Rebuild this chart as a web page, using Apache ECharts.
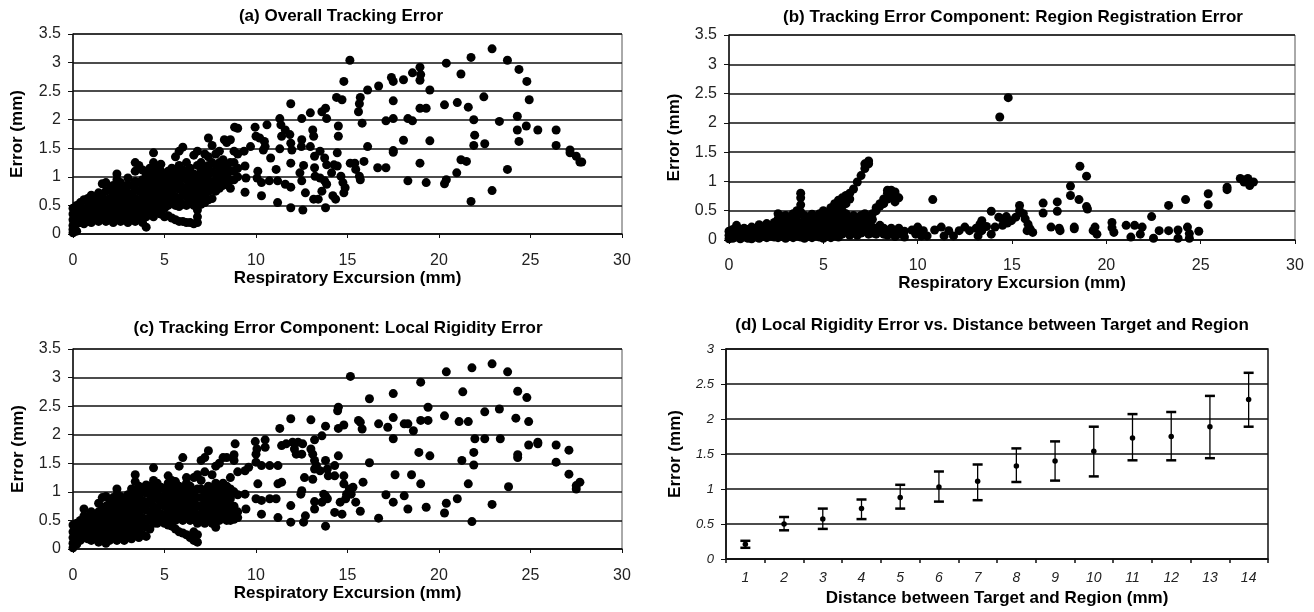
<!DOCTYPE html>
<html><head><meta charset="utf-8">
<script src="https://cdn.jsdelivr.net/npm/echarts@6/dist/echarts.min.js"></script>
<style>html,body{margin:0;padding:0;background:#fff}#c{width:1314px;height:612px}</style>
</head><body><div id="c"></div>
<script>
// ---------- Panel (a): Overall Tracking Error ----------
// dense region, columns: [x, [y values]]
const denseA = [
[0.0,[0.02,0.08,0.15,0.25,0.35,0.45]],[0.2,[0.05,0.18,0.3,0.42,0.5]],[0.4,[0.2,0.32,0.45,0.55]],
[0.6,[0.18,0.3,0.42,0.6]],[0.8,[0.22,0.35,0.48,0.62]],[1.0,[0.2,0.3,0.45,0.55,0.68]],
[1.2,[0.25,0.38,0.5,0.6]],[1.4,[0.22,0.35,0.48,0.62,0.72]],[1.6,[0.28,0.4,0.55,0.7,0.88]],
[1.8,[0.22,0.33,0.46,0.6,0.75,0.9]],[2.0,[0.25,0.38,0.5,0.62,0.78]],[2.2,[0.2,0.32,0.45,0.58,0.7,0.85]],
[2.4,[0.28,0.4,0.55,0.68,0.82,0.95,1.05]],[2.6,[0.22,0.35,0.48,0.6,0.75,0.9]],[2.8,[0.25,0.38,0.52,0.65,0.8]],
[3.0,[0.2,0.32,0.45,0.58,0.72,0.85,0.98]],[3.2,[0.25,0.4,0.55,0.7,0.85]],[3.4,[0.22,0.35,0.48,0.62,0.78,0.92,1.1,1.25]],
[3.6,[0.3,0.45,0.6,0.75,0.9,1.2]],[3.8,[0.2,0.35,0.5,0.65,0.8,0.95,1.12]],[4.0,[0.12,0.3,0.45,0.6,0.75,0.9,1.05]],
[4.2,[0.38,0.52,0.68,0.82,0.98,1.15]],[4.4,[0.3,0.45,0.6,0.75,0.9,1.05,1.25,1.42]],[4.6,[0.4,0.55,0.7,0.85,1.0,1.15]],
[4.8,[0.35,0.5,0.65,0.8,0.95,1.1,1.22]],[5.0,[0.3,0.45,0.6,0.75,0.9,1.05]],[5.2,[0.32,0.5,0.65,0.8,0.95,1.1]],
[5.4,[0.28,0.55,0.7,0.85,1.0,1.15]],[5.6,[0.25,0.5,0.65,0.8,0.95,1.1,1.35]],[5.8,[0.22,0.48,0.62,0.78,0.92,1.05,1.2,1.45]],
[6.0,[0.22,0.52,0.68,0.82,0.98,1.12,1.52]],[6.2,[0.2,0.5,0.65,0.8,0.95,1.1,1.25]],[6.4,[0.2,0.55,0.7,0.85,1.0,1.15]],
[6.6,[0.18,0.5,0.62,0.78,0.92,1.05,1.38]],[6.8,[0.2,0.3,0.42,0.55,0.7,0.85,1.0,1.2,1.45]],[7.0,[0.52,0.65,0.8,0.95,1.1,1.25]],
[7.2,[0.55,0.7,0.85,1.0,1.15,1.4]],[7.4,[0.6,0.75,0.9,1.05,1.2,1.35,1.68]],[7.6,[0.62,0.78,0.92,1.08,1.25,1.55]],
[7.8,[0.75,0.9,1.05,1.2,1.4]],[8.0,[0.8,0.95,1.1,1.25,1.45]],[8.2,[0.85,1.0,1.15,1.3]],
[8.4,[0.9,1.05,1.2,1.6]],[8.6,[0.8,0.95,1.1,1.25,1.65]],[8.8,[0.95,1.1,1.25,1.45]],[9.0,[1.0,1.15,1.4,1.85]]
];
const sparseA = [
[8.83,1.87],[8.27,1.65],[9.95,1.87],[10.0,1.71],[10.2,1.68],[10.46,1.62],[10.5,1.53],[10.4,1.47],[10.6,1.91],
[9.7,1.53],[9.35,1.45],[9.4,1.19],[9.45,0.98],[9.4,0.73],[10.06,0.98],[10.1,1.10],[10.3,0.90],[10.3,0.67],
[10.8,1.33],[10.73,0.93],[11.1,1.13],[11.18,0.93],[11.18,0.55],[11.3,1.49],[11.4,1.71],[11.36,1.91],[11.3,2.02],
[11.6,1.82],[11.85,1.74],[11.9,1.59],[11.96,1.47],[11.9,2.28],[12.5,2.02],[12.48,1.53],[12.5,1.65],
[11.9,1.24],[11.6,0.87],[11.9,0.82],[11.9,0.46],[12.4,1.07],[12.5,0.93],[12.6,1.20],[12.7,0.72],[12.56,0.42],
[12.97,2.12],[13.1,1.82],[13.15,1.71],[12.97,1.53],[13.2,1.36],[13.2,1.16],[13.23,1.01],[13.15,0.61],[13.4,0.61],
[13.6,2.14],[13.8,2.20],[13.86,2.02],[13.5,1.45],[13.75,1.33],[13.86,1.21],[13.5,0.98],[13.75,0.93],[13.86,0.87],[13.6,0.75],
[13.8,0.46],[14.13,1.07],[14.26,1.21],[14.2,0.67],[14.35,0.61],[14.44,1.42],[14.5,1.71],[14.5,1.89],[14.44,1.19],
[14.75,0.90],[14.87,0.81],[14.8,0.72],[14.64,1.01],[15.15,1.24],[15.4,1.24],[15.45,1.13],[15.65,1.01],[15.7,0.95],
[15.13,3.04],[14.8,2.67],[14.4,2.39],[14.7,2.35],[15.7,2.39],[15.65,2.28],[15.6,2.14],[15.8,1.94],[16.1,2.52],
[16.7,2.59],[16.65,1.16],[17.1,1.16],[16.1,1.53],[15.9,1.27],[17.4,2.74],[17.5,2.67],[17.5,2.33],[17.1,1.98],[17.5,2.02],
[17.5,1.46],[17.5,1.43],[18.06,2.70],[18.3,2.02],[18.55,1.98],[18.06,1.64],[18.3,0.93],[18.55,2.82],[18.96,2.92],
[19.0,2.79],[18.96,2.69],[18.96,2.20],[19.3,2.20],[19.5,2.52],[19.5,1.63],[18.96,1.24],[19.3,0.90],[20.3,2.26],
[20.4,2.99],[20.3,0.88],[20.4,0.95],[21.0,2.30],[20.97,1.07],[21.2,2.80],[21.2,1.30],[21.5,1.27],[21.6,2.22],
[21.9,2.00],[21.9,1.55],[21.95,1.73],[21.75,3.09],[21.75,0.57],[22.45,2.40],[22.5,1.58],[22.9,3.24],[22.9,0.76],
[23.3,1.97],[23.74,3.04],[23.74,1.13],[24.37,2.88],[24.28,2.06],[24.28,1.82],[24.37,1.62],[24.8,2.67],[24.93,2.35],
[24.77,1.89],[25.4,1.82],[26.4,1.82],[26.4,1.55],[27.16,1.47],[27.16,1.42],[27.5,1.36],[27.7,1.26],[27.8,1.26]
];

// ---------- Panel (b): Region Registration Error ----------
const denseB = [
[0.0,[0.02,0.08,0.15]],[0.2,[0.03,0.1,0.18]],[0.4,[0.05,0.12,0.2,0.25]],[0.6,[0.02,0.1,0.18]],
[0.8,[0.05,0.12,0.2]],[1.0,[0.03,0.1,0.18]],[1.2,[0.02,0.08,0.15,0.22]],[1.4,[0.05,0.12,0.2]],
[1.6,[0.03,0.1,0.18,0.26]],[1.8,[0.06,0.13,0.22]],[2.0,[0.04,0.11,0.19,0.28]],[2.2,[0.07,0.15,0.24]],
[2.4,[0.05,0.12,0.2,0.3]],[2.6,[0.04,0.12,0.2,0.28,0.36,0.45]],[2.8,[0.06,0.14,0.22,0.3,0.4]],
[3.0,[0.03,0.1,0.18,0.26,0.34,0.42]],[3.2,[0.06,0.14,0.22,0.3,0.38]],[3.4,[0.04,0.12,0.2,0.28,0.36,0.45]],
[3.6,[0.08,0.16,0.24,0.32,0.4,0.5]],[3.8,[0.05,0.12,0.2,0.28,0.48,0.6,0.72,0.8]],[4.0,[0.03,0.1,0.18,0.26,0.34,0.42]],
[4.2,[0.06,0.14,0.22,0.3,0.38]],[4.4,[0.04,0.12,0.2,0.28,0.36,0.44]],[4.6,[0.08,0.16,0.24,0.32,0.4]],
[4.8,[0.05,0.12,0.2,0.28,0.36,0.45]],[5.0,[0.03,0.1,0.18,0.26,0.34,0.42,0.5]],[5.2,[0.06,0.14,0.22,0.3,0.38,0.46]],
[5.4,[0.04,0.12,0.2,0.28,0.36,0.45,0.55]],[5.6,[0.08,0.16,0.24,0.32,0.4,0.5,0.62]],[5.8,[0.05,0.12,0.2,0.28,0.36,0.45,0.55,0.68]],
[6.0,[0.1,0.2,0.3,0.4,0.5,0.6,0.72]],[6.2,[0.15,0.25,0.35,0.45,0.62,0.76]],[6.4,[0.08,0.18,0.28,0.38,0.7,0.8]],
[6.6,[0.12,0.22,0.32,0.42,0.87]],[6.8,[0.08,0.18,0.28,0.38,0.99]],[7.0,[0.12,0.22,0.32,0.42,1.1]],
[7.2,[0.15,0.25,0.35,0.45,1.22,1.3]],[7.4,[0.1,0.2,0.3,0.4,1.35,1.3]],[7.6,[0.12,0.22,0.35,0.45]],
[7.8,[0.1,0.2,0.5,0.55]],[8.0,[0.15,0.25,0.58,0.62]],[8.2,[0.1,0.2,0.62,0.7]],[8.4,[0.08,0.16,0.7,0.8,0.85]],
[8.6,[0.12,0.2,0.72,0.85,0.82]],[8.8,[0.06,0.15,0.65,0.78,0.82]],[9.0,[0.1,0.2,0.72]],[9.3,[0.05,0.15]]
];
const sparseB = [
[9.7,0.17],[10.0,0.22],[10.3,0.16],[10.5,0.07],[10.9,0.17],[11.25,0.22],[11.65,0.16],[11.9,0.07],[12.2,0.16],
[12.5,0.22],[12.75,0.16],[13.1,0.2],[13.3,0.27],[13.4,0.16],[13.65,0.23],[13.9,0.1],[14.1,0.22],[13.4,0.33],
[13.2,0.07],[11.4,0.07],[10.2,0.07],[9.9,0.1],[10.8,0.69],[13.9,0.49],[14.3,0.39],[14.5,0.25],[14.75,0.29],
[14.97,0.33],[15.2,0.39],[14.7,0.4],[14.5,0.36],[15.4,0.59],[15.4,0.5],[15.6,0.45],[15.7,0.36],[15.85,0.27],
[15.96,0.19],[16.1,0.13],[15.8,0.16],[14.35,2.1],[14.8,2.43],[16.65,0.63],[16.65,0.46],[17.4,0.65],[17.4,0.49],
[17.07,0.22],[17.5,0.2],[17.55,0.16],[18.3,0.22],[18.3,0.19],[18.1,0.92],[18.1,0.76],[18.55,0.69],[18.6,1.26],
[18.95,1.09],[18.95,0.57],[19.0,0.53],[19.4,0.22],[19.3,0.16],[19.5,0.1],[20.3,0.3],[20.3,0.21],[20.4,0.13],
[21.05,0.25],[21.3,0.05],[21.5,0.25],[21.9,0.22],[21.8,0.1],[22.4,0.4],[22.5,0.03],[22.8,0.16],[23.3,0.59],
[23.3,0.16],[23.8,0.17],[23.8,0.03],[24.2,0.69],[24.3,0.22],[24.4,0.11],[24.4,0.03],[24.9,0.15],[25.4,0.79],
[25.4,0.6],[26.4,0.9],[26.4,0.86],[27.1,1.05],[27.3,1.02],[27.3,0.99],[27.5,1.05],[27.6,0.99],[27.6,0.93],[27.8,0.99]
];

// ---------- Panel (c): Local Rigidity Error ----------
const denseC = [
[0.0,[0.02,0.1,0.2,0.3,0.42]],[0.2,[0.08,0.2,0.32,0.45]],[0.4,[0.15,0.28,0.4,0.5]],[0.6,[0.2,0.32,0.45,0.58,0.7]],
[0.8,[0.18,0.3,0.42,0.55]],[1.0,[0.15,0.28,0.4,0.52,0.65]],[1.2,[0.2,0.32,0.45,0.58]],[1.4,[0.12,0.25,0.38,0.5,0.65,0.8]],
[1.6,[0.18,0.3,0.42,0.55,0.7,0.9]],[1.8,[0.1,0.22,0.35,0.48,0.62,0.75,0.92]],[2.0,[0.15,0.28,0.4,0.55,0.7,0.85]],
[2.2,[0.2,0.32,0.45,0.6,0.75,0.9]],[2.4,[0.15,0.28,0.42,0.55,0.68,0.82,0.95,1.05]],[2.6,[0.2,0.35,0.5,0.65,0.8,0.92]],
[2.8,[0.15,0.28,0.42,0.58,0.72,0.85]],[3.0,[0.2,0.35,0.5,0.65,0.8,0.95]],[3.2,[0.18,0.3,0.45,0.6,0.75,0.9,1.05]],
[3.4,[0.25,0.4,0.55,0.7,0.85,1.0,1.18,1.3]],[3.6,[0.2,0.35,0.5,0.65,0.8,0.95,1.1]],[3.8,[0.25,0.4,0.55,0.7,0.85,1.0]],
[4.0,[0.22,0.38,0.52,0.68,0.82,0.98,1.12]],[4.2,[0.35,0.5,0.65,0.8,0.95,1.1]],[4.4,[0.45,0.6,0.75,0.9,1.05,1.2,1.42]],
[4.6,[0.45,0.58,0.72,0.88,1.02,1.15]],[4.8,[0.5,0.62,0.78,0.92,1.08]],[5.0,[0.45,0.6,0.75,0.9,1.05]],
[5.2,[0.42,0.55,0.7,0.85,1.0,1.15,1.28]],[5.4,[0.4,0.52,0.65,0.8,0.95,1.1,1.2]],[5.6,[0.35,0.5,0.62,0.75,0.9,1.05,1.18]],
[5.8,[0.3,0.55,0.68,0.82,0.95,1.1,1.45]],[6.0,[0.28,0.5,0.62,0.75,0.9,1.05,1.6]],[6.2,[0.25,0.55,0.7,0.85,1.0,1.15,1.25]],
[6.4,[0.2,0.5,0.65,0.8,0.95,1.1]],[6.6,[0.15,0.3,0.55,0.7,0.85,1.0,1.25]],[6.8,[0.12,0.25,0.45,0.6,0.75,0.9,1.05,1.3]],
[7.0,[0.5,0.62,0.75,0.9,1.05,1.2,1.55]],[7.2,[0.45,0.6,0.72,0.85,1.0,1.35,1.6]],[7.4,[0.5,0.65,0.8,0.95,1.1,1.72]],
[7.6,[0.45,0.6,0.75,0.9,1.05,1.3]],[7.8,[0.38,0.55,0.7,0.85,1.0,1.15,1.45]],[8.0,[0.5,0.65,0.8,0.95,1.1,1.5]],
[8.2,[0.55,0.7,0.85,1.0,1.15,1.6]],[8.4,[0.5,0.62,0.78,0.95,1.1]],[8.6,[0.5,0.6,0.72,0.88,1.05,1.25]],
[8.8,[0.52,0.62,0.75,1.0,1.55,1.65]],[9.0,[0.55,0.65,0.95,1.35]]
];
const sparseC = [
[11.9,2.28],[13.0,2.26],[11.3,2.11],[14.46,2.42],[14.5,2.48],[14.8,2.17],[14.5,2.11],[13.8,2.15],[13.6,1.98],[13.2,1.91],
[10.5,1.91],[9.96,1.88],[10.05,1.75],[10.5,1.78],[8.86,1.84],[8.4,1.60],[11.4,1.81],[11.65,1.84],[12.0,1.87],[12.3,1.87],
[12.55,1.84],[12.1,1.75],[12.2,1.66],[12.5,1.66],[13.0,1.75],[13.1,1.66],[13.2,1.55],[13.3,1.46],[13.5,1.37],[13.2,1.40],
[13.8,1.55],[14.3,1.46],[14.5,1.63],[13.95,1.28],[14.3,1.28],[14.8,1.28],[14.8,1.14],[10.0,1.52],[10.3,1.46],[10.75,1.46],
[11.2,1.46],[10.0,1.66],[9.6,1.43],[9.4,1.37],[11.4,1.17],[11.2,1.14],[12.65,1.25],[12.5,1.02],[12.45,0.96],[10.0,0.88],
[10.3,0.85],[10.75,0.88],[11.1,0.88],[10.1,1.14],[9.4,0.96],[9.45,0.70],[10.3,0.61],[11.2,0.55],[11.9,0.76],[11.9,0.47],
[12.6,0.47],[12.7,0.58],[13.2,0.83],[13.2,0.70],[13.6,0.82],[13.8,0.93],[13.7,0.96],[13.9,0.88],[13.8,0.40],[14.3,0.64],
[14.7,0.61],[14.6,0.82],[14.9,0.88],[14.95,0.96],[15.1,1.05],[15.3,1.08],[15.2,0.96],[13.1,1.22],[13.9,1.40],
[15.16,3.02],[16.2,2.63],[17.5,2.72],[20.4,3.10],[21.8,3.17],[22.9,3.24],[23.75,3.10],[19.0,2.92],[21.3,2.75],[24.3,2.76],
[24.8,2.65],[19.4,2.48],[22.5,2.40],[23.3,2.45],[20.3,2.33],[24.2,2.29],[24.9,2.23],[21.1,2.23],[21.6,2.23],[16.7,2.19],
[17.2,2.13],[17.5,2.30],[17.5,1.93],[18.1,2.19],[18.3,2.19],[18.6,2.07],[19.0,2.25],[19.4,2.25],[21.96,1.93],[22.5,1.93],
[23.35,1.93],[21.9,1.69],[18.9,1.69],[19.5,1.63],[24.3,1.65],[24.3,1.60],[24.9,1.82],[25.4,1.87],[25.4,1.84],[26.4,1.82],
[27.1,1.73],[26.4,1.52],[27.1,1.31],[27.5,1.11],[27.7,1.17],[27.5,1.05],[21.25,1.55],[21.9,1.47],[21.6,1.14],[19.0,1.14],
[18.5,1.30],[17.6,1.30],[23.8,1.09],[17.1,0.95],[18.1,0.93],[17.5,0.82],[18.3,0.70],[19.3,0.73],[20.4,0.80],[20.3,0.63],
[21.0,0.88],[22.9,0.78],[21.8,0.48],[16.7,0.54],[16.2,1.51],[15.85,1.17],[15.7,0.66],[15.45,0.82],[15.7,2.22],[15.8,2.10],[15.6,2.25]
];

// ---------- Panel (d): Local Rigidity Error vs. Distance ----------
const distCats = ['1','2','3','4','5','6','7','8','9','10','11','12','13','14'];
const meanErr  = [0.21,0.50,0.57,0.72,0.88,1.03,1.11,1.33,1.40,1.54,1.73,1.75,1.89,2.28];
const upperErr = [0.26,0.60,0.72,0.85,1.06,1.25,1.35,1.58,1.68,1.89,2.07,2.10,2.33,2.66];
const lowerErr = [0.16,0.41,0.43,0.57,0.72,0.82,0.84,1.10,1.12,1.18,1.41,1.41,1.44,1.89];

const scatterTicks = [0,5,10,15,20,25,30];
const errorTicks = [0,0.5,1,1.5,2,2.5,3,3.5];

function flat(cols, extra) {
  const out = [];
  cols.forEach(c => c[1].forEach(y => out.push([c[0], y])));
  return out.concat(extra);
}

const F = "'Liberation Sans', Arial, sans-serif";
const gridsPx = [
  {left:73, top:34, width:549, height:200},
  {left:729, top:35, width:566, height:205},
  {left:73, top:349, width:549, height:200},
  {left:726, top:349, width:542, height:210}
];

function scatterX(gi, labelMargin, nameGap) {
  return {
    gridIndex: gi, type:'value', min: scatterTicks[0], max: scatterTicks[scatterTicks.length-1], interval: 5,
    name:'Respiratory Excursion (mm)', nameLocation:'middle', nameGap: nameGap,
    nameTextStyle:{fontFamily:F, fontWeight:'bold', fontSize:17, color:'#000'},
    axisLine:{show:true, onZero:false, lineStyle:{color:'#111', width:1.5}},
    axisTick:{show:true, length:4, lineStyle:{color:'#111', width:1}},
    axisLabel:{fontFamily:F, fontSize:16, color:'#222', margin: labelMargin},
    splitLine:{show:false}
  };
}
function scatterY(gi, nameGap) {
  return {
    gridIndex: gi, type:'value', min: errorTicks[0], max: errorTicks[errorTicks.length-1], interval: 0.5,
    name:'Error (mm)', nameLocation:'middle', nameGap: nameGap,
    nameTextStyle:{fontFamily:F, fontWeight:'bold', fontSize:17, color:'#000'},
    axisLine:{show:true, lineStyle:{color:'#111', width:1.5}},
    axisTick:{show:true, length:5, lineStyle:{color:'#111', width:1}},
    axisLabel:{fontFamily:F, fontSize:16, color:'#222', margin:12},
    splitLine:{show:true, lineStyle:{color:'#111', width:1.5}}
  };
}
function scat(gi, data) {
  return {type:'scatter', xAxisIndex:gi, yAxisIndex:gi, data:data, symbol:'circle', symbolSize:9,
    itemStyle:{color:'#000', opacity:1}, animation:false, silent:true};
}

const titleStyle = {fontFamily:F, fontWeight:'bold', fontSize:17, color:'#000'};

const option = {
  backgroundColor:'#fff',
  animation:false,
  title:[
    {text:'(a) Overall Tracking Error', left:341, top:8, textAlign:'center', padding:0, textStyle:titleStyle},
    {text:'(b) Tracking Error Component: Region Registration Error', left:1013, top:9, textAlign:'center', padding:0, textStyle:titleStyle},
    {text:'(c) Tracking Error Component: Local Rigidity Error', left:338, top:320, textAlign:'center', padding:0, textStyle:titleStyle},
    {text:'(d) Local Rigidity Error vs. Distance between Target and Region', left:992, top:317, textAlign:'center', padding:0, textStyle:titleStyle}
  ],
  grid: gridsPx.map((g,i) => Object.assign({show:true, borderColor: i===3 ? '#111' : '#555', borderWidth: i===3 ? 1.5 : 1, backgroundColor:'#fff'}, g)),
  xAxis:[
    scatterX(0, 19, 34),
    scatterX(1, 18, 35),
    scatterX(2, 19, 34),
    {gridIndex:3, type:'category', data:distCats, boundaryGap:true,
     name:'Distance between Target and Region (mm)', nameLocation:'middle', nameGap:31,
     nameTextStyle:{fontFamily:F, fontWeight:'bold', fontSize:17, color:'#000'},
     axisLine:{show:true, lineStyle:{color:'#111', width:1.5}},
     axisTick:{show:true, length:4, alignWithLabel:false, lineStyle:{color:'#111', width:1.5}},
     axisLabel:{fontFamily:F, fontSize:14, fontStyle:'italic', color:'#222', margin:12},
     splitLine:{show:false}}
  ],
  yAxis:[
    scatterY(0, 47),
    scatterY(1, 46),
    scatterY(2, 46),
    {gridIndex:3, type:'value', min:0, max:3, interval:0.5,
     name:'Error (mm)', nameLocation:'middle', nameGap:42,
     nameTextStyle:{fontFamily:F, fontWeight:'bold', fontSize:17, color:'#000'},
     axisLine:{show:true, lineStyle:{color:'#111', width:1.5}},
     axisTick:{show:true, length:5, lineStyle:{color:'#111', width:1}},
     axisLabel:{fontFamily:F, fontSize:13, fontStyle:'italic', color:'#222', margin:12},
     splitLine:{show:true, lineStyle:{color:'#111', width:1.5}}}
  ],
  series:[
    scat(0, flat(denseA, sparseA)),
    scat(1, flat(denseB, sparseB)),
    scat(2, flat(denseC, sparseC)),
    {type:'custom', xAxisIndex:3, yAxisIndex:3, silent:true,
     data: distCats.map((c,i) => [i, lowerErr[i], upperErr[i]]),
     encode:{x:0, y:[1,2]},
     renderItem: function(params, api) {
       const lo = api.coord([api.value(0), api.value(1)]);
       const hi = api.coord([api.value(0), api.value(2)]);
       const hw = 5;
       return {type:'group', children:[
         {type:'line', shape:{x1:lo[0], y1:lo[1], x2:hi[0], y2:hi[1]}, style:{stroke:'#000', lineWidth:1.3}},
         {type:'line', shape:{x1:hi[0]-hw, y1:hi[1], x2:hi[0]+hw, y2:hi[1]}, style:{stroke:'#000', lineWidth:2.5}},
         {type:'line', shape:{x1:lo[0]-hw, y1:lo[1], x2:lo[0]+hw, y2:lo[1]}, style:{stroke:'#000', lineWidth:2.5}}
       ]};
     }},
    {type:'scatter', xAxisIndex:3, yAxisIndex:3, data:meanErr, symbol:'circle', symbolSize:5.5,
     itemStyle:{color:'#000', opacity:1}, silent:true}
  ]
};

const chart = echarts.init(document.getElementById('c'), null, {renderer:'canvas'});
chart.setOption(option);
</script></body></html>
